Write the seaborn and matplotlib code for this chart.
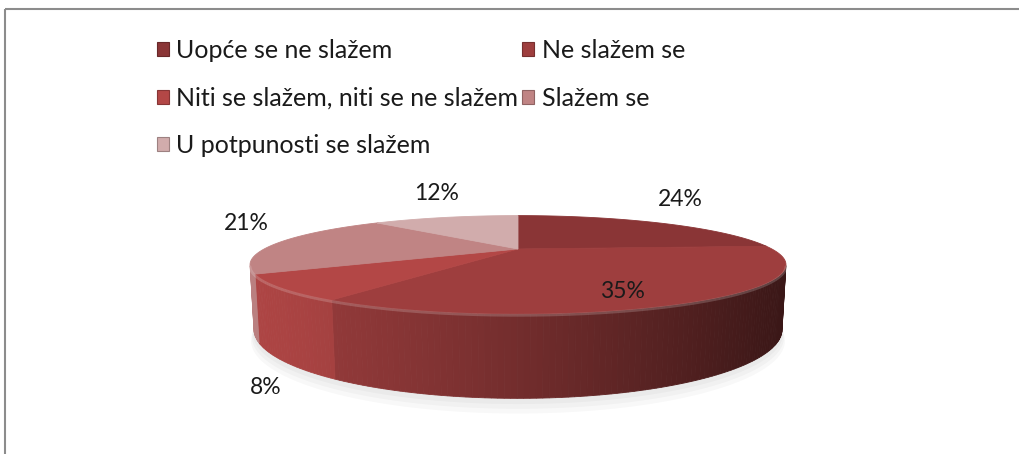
import numpy as np
import matplotlib
matplotlib.use("Agg")
import matplotlib.pyplot as plt
from matplotlib.patches import Polygon, Patch
import matplotlib.colors as mcolors
import seaborn as sns

# data
categories = ['Uopće se ne slažem', 'Ne slažem se', 'Niti se slažem, niti se ne slažem',
              'Slažem se', 'U potpunosti se slažem']
percent = [24, 35, 8, 21, 12]
slice_colors = ['#8a3536', '#9e3e3e', '#b34746', '#c08484', '#d1acac']
pct_labels = [f'{p}%' for p in percent]

sns.set_theme(style='white')
plt.rcParams['font.family'] = ['Lato', 'DejaVu Sans']

# layout of the 3d pie (pixel space)
cx, cy = 518, 249
f_len, dist, elev, height = 782, 3.08, np.radians(10), 0.238
ce, se = np.cos(elev), np.sin(elev)


def project(x, z, y):
    up = y * ce + z * se
    depth = dist + z * ce - y * se
    return cx + f_len * x / depth, cy - f_len * up / depth


def shade(color, factor):
    rgb = np.array(mcolors.to_rgb(color))
    return tuple(np.clip(rgb * factor, 0, 1))


fig = plt.figure(figsize=(10.19, 4.54), dpi=100)
ax = fig.add_axes([0, 0, 1, 1])
ax.set_xlim(0, 1019)
ax.set_ylim(454, 0)
ax.axis('off')

# frame
ax.plot([5.5, 1019], [8.5, 8.5], color='#8c8c8c', lw=1.5, solid_capstyle='butt')
ax.plot([5.5, 5.5], [8.5, 454], color='#8c8c8c', lw=1.5, solid_capstyle='butt')

# slice angles, clockwise from 12 o'clock
frac = np.array(percent) / sum(percent)
edges = 90 - 360 * np.concatenate([[0], np.cumsum(frac)])

# faint shadow under the pie
th = np.linspace(0, 2 * np.pi, 200)
for k in range(4):
    grow = 1.0 + 0.004 * k
    sx, sy = project(np.cos(th) * grow, np.sin(th) * grow, -height - 0.012 * k)
    ax.fill(sx, sy + 1, color='#8a8a8a', alpha=0.06, lw=0, zorder=1)

# side walls
vis = -1 / (dist * ce)
xs_left, _ = project(-np.sqrt(1 - vis ** 2), vis, 0)
xs_right = 2 * cx - xs_left
for i, col in enumerate(slice_colors):
    a0, a1 = np.radians(edges[i + 1]), np.radians(edges[i])
    ang = np.linspace(a0, a1, max(int(np.degrees(a1 - a0)), 2) + 1)
    for t0, t1 in zip(ang[:-1], ang[1:]):
        tm = 0.5 * (t0 + t1)
        if np.sin(tm) > vis:
            continue
        p = [project(np.cos(t0), np.sin(t0), 0), project(np.cos(t1), np.sin(t1), 0),
             project(np.cos(t1), np.sin(t1), -height), project(np.cos(t0), np.sin(t0), -height)]
        mx, _ = project(np.cos(tm), np.sin(tm), 0)
        u = np.clip((mx - xs_left) / (xs_right - xs_left), 0, 1)
        c = shade(col, 0.97 - 0.6 * u ** 1.3)
        ax.add_patch(Polygon(p, closed=True, fc=c, ec=c, lw=0.6, zorder=2))

# top faces
for i, col in enumerate(slice_colors):
    ang = np.radians(np.linspace(edges[i + 1], edges[i], 120))
    sx, sy = project(np.cos(ang), np.sin(ang), 0)
    pts = [(cx, cy)] + list(zip(sx, sy))
    ax.add_patch(Polygon(pts, closed=True, fc=col, ec=col, lw=0.6, zorder=3))

# rim highlight on the front edge
lim = np.arcsin(vis)
ang = np.linspace(np.pi - lim, 2 * np.pi + lim, 200)
sx, sy = project(np.cos(ang), np.sin(ang), 0)
ax.plot(sx, sy + 1.5, color='white', alpha=0.18, lw=2, zorder=4)

# percent labels
label_pos = [(680, 200), (622, 291), (266, 387), (246, 223), (437, 194)]
for txt, (lx, ly) in zip(pct_labels, label_pos):
    ax.text(lx, ly, txt, ha='center', va='center', fontsize=16.5, color='#1a1a1a', zorder=5)

# legend, row-major order
order = [0, 2, 4, 1, 3]
handles = [Patch(fc=slice_colors[i], ec=shade(slice_colors[i], 0.75), lw=0.8) for i in order]
ax.legend(handles, [categories[i] for i in order], ncol=2, loc='upper left',
          bbox_to_anchor=(157 / 1019, 1 - 39 / 454), frameon=False, fontsize=18,
          borderpad=0, borderaxespad=0, handlelength=0.48, handleheight=0.48,
          handletextpad=0.3, columnspacing=0.15, labelspacing=0.98, labelcolor='#1a1a1a')

fig.savefig('out.png', dpi=100)
